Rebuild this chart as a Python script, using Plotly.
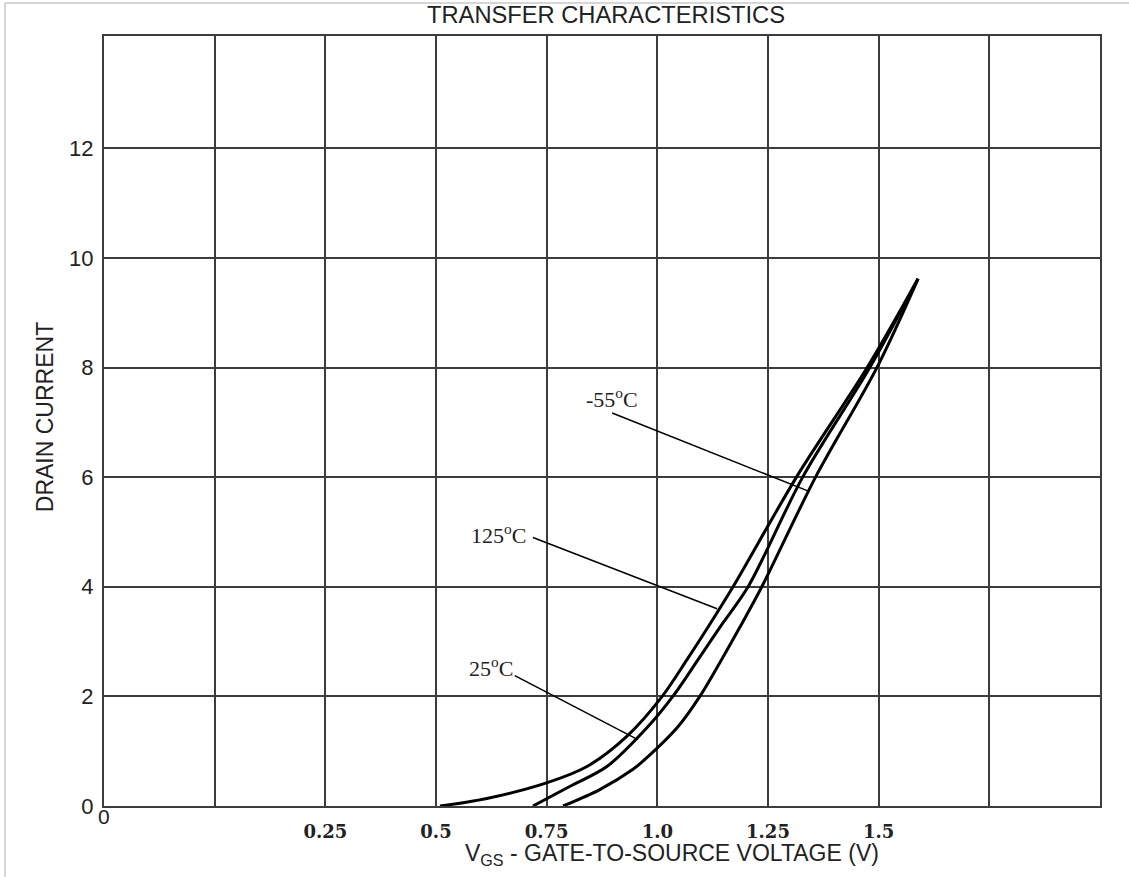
import plotly.graph_objects as go

# --- data ---
vgs_125 = [0.509, 0.615, 0.753, 0.841, 0.931, 1.011, 1.067, 1.115, 1.171, 1.315, 1.474, 1.589]
id_125 = [0.0, 0.137, 0.43, 0.72, 1.27, 2.0, 2.67, 3.27, 4.0, 6.01, 8.0, 9.62]

vgs_25 = [0.719, 0.803, 0.886, 0.979, 1.035, 1.092, 1.142, 1.205, 1.329, 1.480, 1.589]
id_25 = [0.0, 0.36, 0.72, 1.45, 2.0, 2.67, 3.27, 4.0, 6.01, 8.0, 9.62]

vgs_m55 = [0.787, 0.870, 0.945, 0.972, 1.047, 1.096, 1.145, 1.187, 1.236, 1.358, 1.496, 1.589]
id_m55 = [0.0, 0.30, 0.67, 0.85, 1.45, 2.0, 2.67, 3.27, 4.0, 6.01, 8.0, 9.62]

x_grid = [0, 0.25, 0.5, 0.75, 1.0, 1.25, 1.5, 1.75]
x_ticktext = ["", "0.25", "0.5", "0.75", "1.0", "1.25", "1.5", ""]
y_ticks = [0, 2, 4, 6, 8, 10, 12]

labels = ["-55<sup>o</sup>C", "125<sup>o</sup>C", "25<sup>o</sup>C"]
label_pos = [(0.961, 7.45), (0.708, 4.97), (0.678, 2.54)]
leader_start = [(0.898, 7.17), (0.719, 4.90), (0.678, 2.38)]
leader_end = [(1.340, 5.75), (1.135, 3.60), (0.956, 1.21)]

GRID = "#3c3c3c"
SANS = "Liberation Sans, Arial, sans-serif"

fig = go.Figure()
for xs, ys in [(vgs_125, id_125), (vgs_25, id_25), (vgs_m55, id_m55)]:
    fig.add_trace(go.Scatter(x=xs, y=ys, mode="lines",
                             line=dict(color="black", width=3, shape="spline", smoothing=0.9),
                             showlegend=False, hoverinfo="skip"))

for (x0, y0), (x1, y1) in zip(leader_start, leader_end):
    fig.add_trace(go.Scatter(x=[x0, x1], y=[y0, y1], mode="lines",
                             line=dict(color="black", width=1.5),
                             showlegend=False, hoverinfo="skip"))

for txt, (x, y) in zip(labels, label_pos):
    fig.add_annotation(x=x, y=y, text=txt, showarrow=False, xanchor="right", yanchor="middle",
                       font=dict(family="Liberation Serif, Times New Roman, serif", size=22, color="#222"))

# odd "0" label at the left edge of the x axis
fig.add_annotation(x=-0.25, xref="x", y=-0.0136, yref="paper", text="0", showarrow=False,
                   xanchor="center", yanchor="middle", font=dict(family=SANS, size=21, color="#222"))

# chart title
fig.add_annotation(x=0.504, xref="paper", y=1.027, yref="paper", text="TRANSFER CHARACTERISTICS",
                   showarrow=False, xanchor="center", yanchor="middle",
                   font=dict(family=SANS, size=23.7, color="#222"))
# x axis title
fig.add_annotation(x=0.3604, xref="paper", y=-0.063, yref="paper",
                   text="V<sub>GS</sub> - GATE-TO-SOURCE VOLTAGE (V)",
                   showarrow=False, xanchor="left", yanchor="middle",
                   font=dict(family=SANS, size=23, color="#222"))
# y axis title
fig.add_annotation(x=-0.0592, xref="paper", y=0.505, yref="paper", text="DRAIN CURRENT",
                   showarrow=False, textangle=-90, xanchor="center", yanchor="middle",
                   font=dict(family=SANS, size=23, color="#222"))

# light gray frame of the scanned page (top and left edges)
fig.add_shape(type="line", xref="paper", yref="paper", x0=(5 - 104) / 996, x1=(1129 - 104) / 996,
              y0=1 + 33 / 770.5, y1=1 + 33 / 770.5, line=dict(color="#c8c8c8", width=1.5))
fig.add_shape(type="line", xref="paper", yref="paper", x0=(5 - 104) / 996, x1=(5 - 104) / 996,
              y0=1 + 33 / 770.5, y1=-71 / 770.5, line=dict(color="#c8c8c8", width=1.5))

fig.update_xaxes(range=[-0.25, 2.0], tickvals=x_grid, ticktext=x_ticktext,
                 showgrid=True, gridcolor=GRID, gridwidth=2, zeroline=False,
                 showline=True, linecolor=GRID, linewidth=2, mirror=True,
                 ticks="", ticklabelstandoff=8,
                 tickfont=dict(family="DejaVu Serif, serif", size=18, color="#222", weight="bold"))
fig.update_yaxes(range=[0, 14.05], tickvals=y_ticks,
                 showgrid=True, gridcolor=GRID, gridwidth=2, zeroline=False,
                 showline=True, linecolor=GRID, linewidth=2, mirror=True,
                 ticks="", ticklabelstandoff=4,
                 tickfont=dict(family=SANS, size=22, color="#222"))

fig.update_layout(width=1129, height=877, margin=dict(l=104, r=29, t=36, b=71),
                  plot_bgcolor="white", paper_bgcolor="white", showlegend=False)

fig.write_html("out.html")
